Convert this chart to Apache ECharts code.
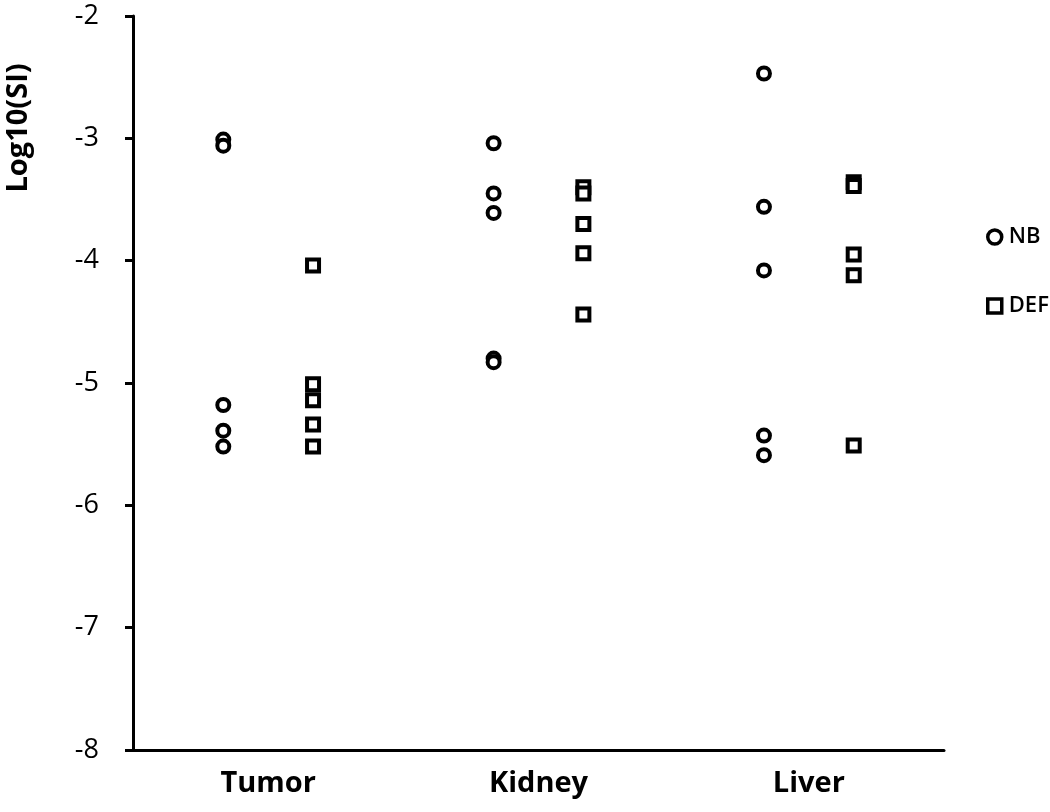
<!DOCTYPE html>
<html>
<head>
<meta charset="utf-8">
<script src="https://cdn.jsdelivr.net/npm/echarts@6/dist/echarts.min.js"></script>
<style>html,body{margin:0;padding:0;background:#fff}#c{width:1050px;height:812px}</style>
</head>
<body>
<div id="c"></div>
<script>
const categories = ['Tumor', 'Kidney', 'Liver'];
const yTicks = [-8, -7, -6, -5, -4, -3, -2];
const nbValues = [
  [-3.01, -3.06, -5.18, -5.39, -5.52],
  [-3.04, -3.45, -3.61, -4.80, -4.83],
  [-2.47, -3.56, -4.08, -5.43, -5.59]
];
const defValues = [
  [-4.04, -5.01, -5.14, -5.34, -5.52],
  [-3.40, -3.45, -3.70, -3.94, -4.44],
  [-3.36, -3.39, -3.95, -4.12, -5.51]
];
const groupOffset = 0.166;

function toPoints(vals, off) {
  const pts = [];
  vals.forEach((arr, ci) => arr.forEach(v => pts.push([ci + 0.5 + off, v])));
  return pts;
}

const font = '"Open Sans", Lato, sans-serif';
const chart = echarts.init(document.getElementById('c'), null, {renderer: 'canvas'});
const markerStyle = {color: '#fff', borderColor: '#000', borderWidth: 4, opacity: 1};
chart.setOption({
  animation: false,
  backgroundColor: '#fff',
  grid: {left: 133, right: 106, top: 16, bottom: 62},
  xAxis: {
    type: 'value', min: 0, max: 3, interval: 0.5,
    axisLine: {show: true, lineStyle: {color: '#000', width: 3}},
    axisTick: {show: false},
    splitLine: {show: false},
    axisLabel: {
      margin: 19, fontSize: 29, fontWeight: 'bold', color: '#000', fontFamily: font,
      formatter: v => {
        const i = Math.round(v - 0.5);
        return Math.abs(v - 0.5 - i) < 1e-6 && categories[i] ? categories[i] : '';
      }
    }
  },
  yAxis: {
    type: 'value', min: yTicks[0], max: yTicks[yTicks.length - 1], interval: 1,
    axisLine: {show: true, lineStyle: {color: '#000', width: 3}},
    axisTick: {show: true, length: 8, lineStyle: {color: '#000', width: 3}},
    splitLine: {show: false},
    axisLabel: {margin: 34, fontSize: 27, color: '#000', fontFamily: font}
  },
  legend: {
    orient: 'vertical', left: 981, top: 221, itemGap: 47,
    itemWidth: 14, itemHeight: 14,
    textStyle: {fontSize: 22, color: '#000', fontFamily: font, fontWeight: 600, padding: [0, 0, 0, 2]},
    data: [
      {name: 'NB', icon: 'circle', itemStyle: {color: '#fff', borderColor: '#000', borderWidth: 3.5}},
      {name: 'DEF', icon: 'rect', itemStyle: {color: '#fff', borderColor: '#000', borderWidth: 3.5}}
    ]
  },
  graphic: [{
    type: 'text', x: 19, y: 128, rotation: Math.PI / 2,
    style: {text: 'Log10(SI)', fontSize: 29, fontWeight: 'bold', fill: '#000', fontFamily: font,
      align: 'center', verticalAlign: 'middle'}
  }],
  series: [
    {name: 'NB', type: 'scatter', symbol: 'circle', symbolSize: 12, itemStyle: markerStyle,
      data: toPoints(nbValues, -groupOffset)},
    {name: 'DEF', type: 'scatter', symbol: 'rect', symbolSize: 12, itemStyle: markerStyle,
      data: toPoints(defValues, groupOffset)}
  ]
});
</script>
</body>
</html>
